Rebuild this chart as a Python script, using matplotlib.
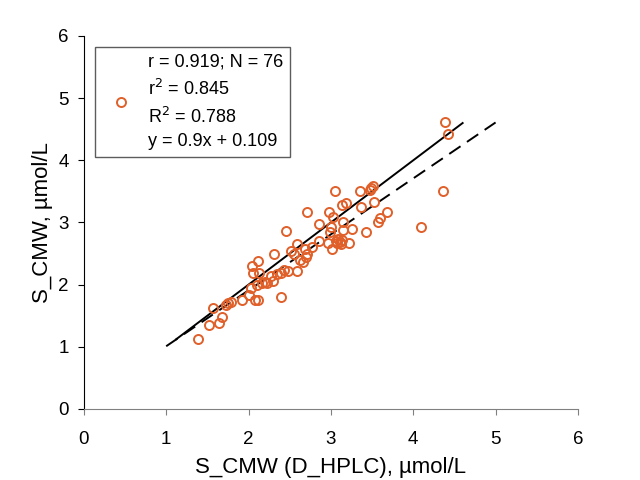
import numpy as np
import matplotlib
matplotlib.use('Agg')
import matplotlib.pyplot as plt

plt.rcParams['font.family'] = ['Liberation Sans', 'DejaVu Sans']

# Scatter values
x_hplc = [1.39, 1.52, 1.57, 1.64, 1.68, 1.73, 1.79, 1.92, 2.00, 2.08,
          2.11, 2.06, 2.10, 2.04, 2.12, 2.13, 2.16, 2.22, 2.27, 2.30,
          2.31, 2.39, 2.43, 2.48, 2.45, 2.51, 2.40, 2.59, 2.59, 2.66,
          2.68, 2.71, 2.77, 2.86, 2.85, 2.96, 3.05, 2.71, 2.98, 3.02,
          3.14, 3.18, 3.35, 3.49, 3.51, 3.52, 3.37, 3.68, 3.60, 3.57,
          3.15, 3.00, 3.26, 3.15, 3.43, 2.99, 3.01, 3.09, 3.11, 3.13,
          3.08, 3.22, 2.70, 4.38, 4.42, 4.36, 4.09, 2.03, 2.20, 2.34,
          2.55, 3.06, 3.12, 3.48, 2.62, 1.75]
y_cmw = [1.12, 1.35, 1.62, 1.38, 1.48, 1.68, 1.72, 1.75, 1.84, 1.75,
         1.76, 2.18, 1.99, 2.30, 2.38, 2.18, 2.03, 2.02, 2.14, 2.06,
         2.50, 2.19, 2.24, 2.22, 2.86, 2.54, 1.80, 2.66, 2.22, 2.37,
         2.57, 2.49, 2.61, 2.98, 2.71, 2.67, 3.50, 3.17, 3.17, 3.09,
         3.28, 3.32, 3.50, 3.55, 3.58, 3.33, 3.25, 3.17, 3.08, 3.00,
         3.00, 2.93, 2.89, 2.88, 2.85, 2.85, 2.58, 2.74, 2.69, 2.72,
         2.67, 2.67, 2.44, 4.61, 4.42, 3.50, 2.93, 1.95, 2.05, 2.17,
         2.50, 2.70, 2.65, 3.53, 2.40, 1.70]

# line of identity and regression line
ident_x = [1.12, 4.6]
reg_x = [1.0, 5.0]
slope, intercept = 0.9, 0.109

label = ("r = 0.919; N = 76\n"
         "r$^2$ = 0.845\n"
         "R$^2$ = 0.788\n"
         "y = 0.9x + 0.109")

fig = plt.figure(figsize=(6.4, 4.8), dpi=100)
ax = fig.add_axes([0.131, 0.148, 0.772, 0.777])

ax.plot(x_hplc, y_cmw, 'o', mfc='none', mec='#e0602a', mew=1.4, ms=6.5,
        label=label, zorder=3)
ax.plot(ident_x, ident_x, color='black', lw=1.4, zorder=2)
reg_y = [slope * v + intercept for v in reg_x]
ax.plot(reg_x, reg_y, color='black', lw=1.4, ls=(0, (7, 4)), zorder=2)

ax.set_xlim(0, 6)
ax.set_ylim(0, 6)
ax.set_xticks(range(0, 7))
ax.set_yticks(range(0, 7))
ax.tick_params(axis='x', labelsize=13.5, direction='out', length=4,
               color='#808080', pad=12)
ax.tick_params(axis='y', labelsize=13.5, direction='out', length=4, pad=7)
ax.spines['top'].set_visible(False)
ax.spines['right'].set_visible(False)
ax.spines['bottom'].set_color('#808080')

ax.set_xlabel('S_CMW (D_HPLC), µmol/L', fontsize=16, labelpad=6)
ax.set_ylabel('S_CMW, µmol/L', fontsize=16, labelpad=4)

leg = ax.legend(loc='upper left', bbox_to_anchor=(0.022, 0.97), fontsize=13,
                frameon=True, fancybox=False, edgecolor='#333333',
                handletextpad=0.4, borderpad=0.35, handlelength=2.2,
                borderaxespad=0)
leg.get_frame().set_linewidth(1.0)
leg.get_texts()[0].set_linespacing(1.5)

fig.savefig('out.png', dpi=100)
